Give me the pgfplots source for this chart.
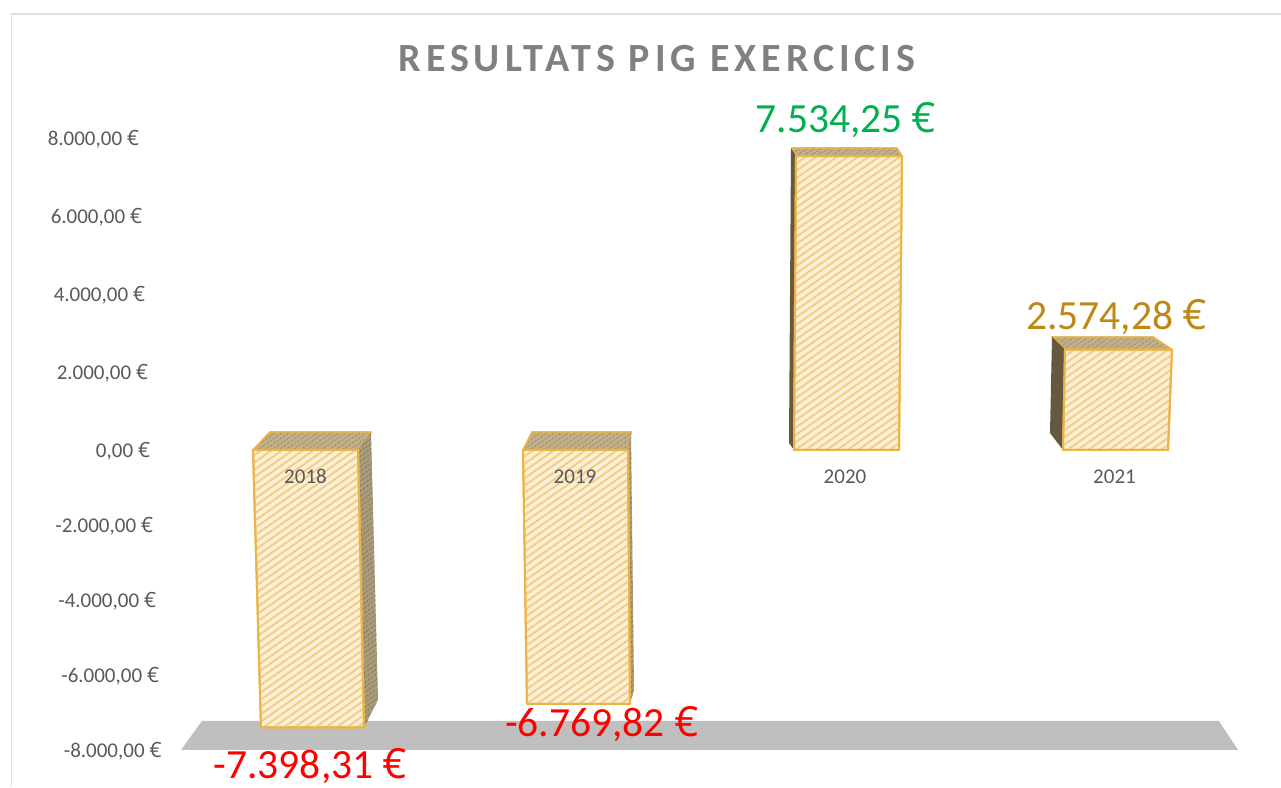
\documentclass[border=0pt]{standalone}
\usepackage{fontspec}
\setmainfont{Carlito}
\newfontfamily\titlefont[LetterSpace=12.3,BoldFont={Carlito Bold}]{Carlito}
\newfontfamily\eurofont{Open Sans}
\newcommand{\eu}{{\eurofont\fontsize{0.88em}{1em}€}}
\usepackage{pgfplots}
\pgfplotsset{compat=1.18}
\usetikzlibrary{patterns.meta}
\definecolor{bg}{HTML}{FDEFD5}
\definecolor{hatch}{HTML}{EFCD88}
\definecolor{edge}{HTML}{EBB545}
\definecolor{topbg}{HTML}{BFAE88}
\definecolor{tophatch}{HTML}{9C8A62}
\definecolor{sidebg}{HTML}{A89A78}
\definecolor{sidehatch}{HTML}{7F7254}
\definecolor{darkside}{HTML}{665840}
\definecolor{ticktext}{HTML}{595959}
\tikzset{
 front/.style={draw=edge,line width=2pt,line join=round,fill=bg,
   postaction={pattern={Lines[angle=35,distance=6pt,line width=1.9pt]},pattern color=hatch}},
 topf/.style={draw=edge,line width=1.4pt,line join=round,fill=topbg,
   postaction={pattern={Lines[angle=35,distance=4pt,line width=1.4pt]},pattern color=tophatch}},
 sidef/.style={draw=none,fill=sidebg,
   postaction={pattern={Lines[angle=35,distance=4pt,line width=1.4pt]},pattern color=sidehatch}},
 darkf/.style={draw=none,fill=darkside},
}
\pgfplotsset{
 lab/.style={only marks,mark size=0pt,point meta=explicit symbolic,nodes near coords,
   every node near coord/.append style={anchor=center,inner sep=0pt,font=\fontsize{#1}{#1}\selectfont}},
}
\begin{document}
\begin{tikzpicture}
\path[use as bounding box] (0,0) rectangle (1281pt,787pt);
\begin{axis}[
  at={(0,0)},anchor=south west,
  width=1281pt,height=787pt,scale only axis,hide axis,clip=false,
  xmin=0,xmax=1281,
  ymin=-8986.67,ymax=11538.46,
  y coord trafo/.code={\pgfmathparse{#1>0 ? #1*0.039 : #1*0.0375}},
  cycle list name=black white,
]
% chart frame
\addplot[no marks,color=black!13,line width=1.5pt] coordinates {(11.5,-8986.67)(11.5,11179)(1281,11179)};
% floor
\addplot[no marks,draw=none,fill=black!25] coordinates {(202,-7227)(1219,-7227)(1238,-8000)(181,-8000)} -- cycle;
% 2018
\addplot[no marks,topf] coordinates {(253,0)(270,461.5)(371,461.5)(358,0)} -- cycle;
\addplot[no marks,sidef] coordinates {(358,0)(371,461.5)(378,-6667)(364,-7398.31)} -- cycle;
\addplot[no marks,front] coordinates {(253,0)(358,0)(364,-7398.31)(261,-7398.31)} -- cycle;
% 2019
\addplot[no marks,topf] coordinates {(523,0)(532,461.5)(631,461.5)(628,0)} -- cycle;
\addplot[no marks,sidef] coordinates {(628,0)(631,461.5)(634,-6400)(630,-6769.82)} -- cycle;
\addplot[no marks,front] coordinates {(523,0)(628,0)(630,-6769.82)(527,-6769.82)} -- cycle;
% 2020
\addplot[no marks,topf] coordinates {(796,7534.25)(792,7743.6)(897,7743.6)(902,7534.25)} -- cycle;
\addplot[no marks,darkf] coordinates {(796,7534.25)(791,7743.6)(789,179.5)(794,0)} -- cycle;
\addplot[no marks,front] coordinates {(796,7534.25)(902,7534.25)(899,0)(794,0)} -- cycle;
% 2021
\addplot[no marks,topf] coordinates {(1065,2574.28)(1052,2897.4)(1153,2897.4)(1172,2574.28)} -- cycle;
\addplot[no marks,darkf] coordinates {(1065,2574.28)(1052,2897.4)(1050,435.9)(1063,0)} -- cycle;
\addplot[no marks,front] coordinates {(1065,2574.28)(1172,2574.28)(1168,0)(1063,0)} -- cycle;
% value axis labels
\addplot[lab=21,every node near coord/.append style={anchor=east,text=ticktext,yshift=-1.2pt}] coordinates {
 (139.5,8000)[{8.000,00 \eu}] (142.5,6000)[{6.000,00 \eu}] (145.5,4000)[{4.000,00 \eu}] (148.5,2000)[{2.000,00 \eu}]
 (150.5,0)[{0,00 \eu}] (153.5,-2000)[{-2.000,00 \eu}] (156.5,-4000)[{-4.000,00 \eu}] (159.5,-6000)[{-6.000,00 \eu}] (162,-8000)[{-8.000,00 \eu}]
};
% category labels
\addplot[lab=21,every node near coord/.append style={text=ticktext,yshift=-0.8pt}] coordinates {
 (305.5,-693)[2018] (575,-693)[2019] (845,-693)[2020] (1114.5,-693)[2021]
};
% data labels
\addplot[lab=41.5,every node near coord/.append style={text=red,yshift=-1.5pt}] coordinates {(310.5,-8400)[{-7.398,31 \eu}]};
\addplot[lab=41.5,every node near coord/.append style={text=red,yshift=-2pt}] coordinates {(602,-7253)[{-6.769,82 \eu}]};
\addplot[lab=41.5,every node near coord/.append style={text={rgb,255:red,0;green,176;blue,80},yshift=-2pt}] coordinates {(846,8500)[{7.534,25 \eu}]};
\addplot[lab=41.5,every node near coord/.append style={text={rgb,255:red,191;green,135;blue,20},yshift=-2pt}] coordinates {(1116.5,3462)[{2.574,28 \eu}]};
\node[anchor=center,inner sep=0pt,text=black!50,font=\titlefont\bfseries\fontsize{40}{40}\selectfont] at (axis cs:657,10040) {RESULTATS PIG EXERCICIS};
\end{axis}
\end{tikzpicture}
\end{document}
